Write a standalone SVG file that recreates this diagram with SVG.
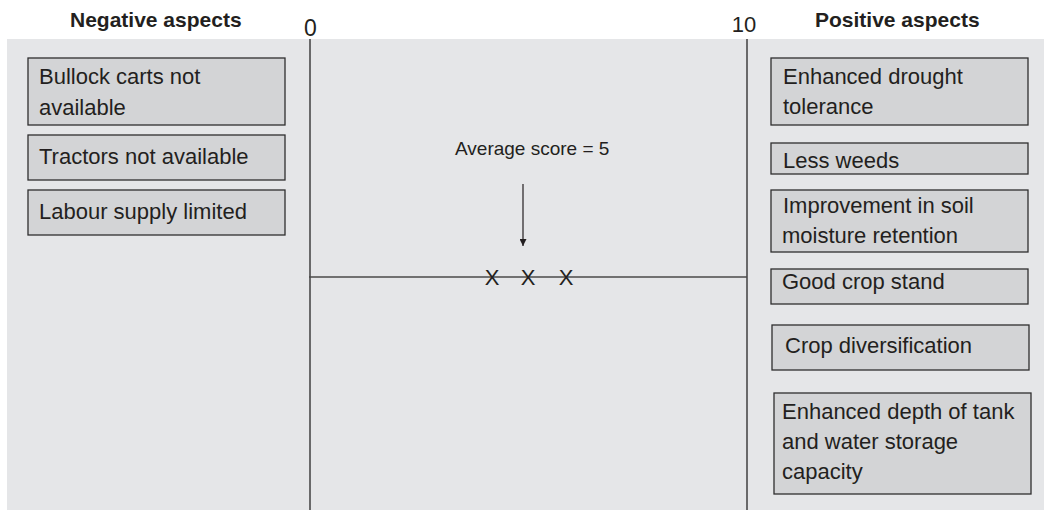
<svg xmlns="http://www.w3.org/2000/svg" width="1044" height="510" viewBox="0 0 1044 510">
<defs>
<style>
.t{font-family:"Liberation Sans",Arial,sans-serif;font-size:22px;fill:#231f20}
.h{font-family:"Liberation Sans",Arial,sans-serif;font-size:21px;font-weight:bold;fill:#231f20}
.box{fill:#d3d4d6;stroke:#2f2f2f;stroke-width:1.3}
.ln{stroke:#4a4a4a;stroke-width:1.6;fill:none}
</style>
<marker id="ah" viewBox="0 0 10 10" refX="10" refY="5" markerWidth="7" markerHeight="7" markerUnits="userSpaceOnUse" orient="auto">
<path d="M0,0 L10,5 L0,10 z" fill="#231f20"/>
</marker>
</defs>
<rect x="0" y="0" width="1044" height="510" fill="#ffffff"/>
<rect x="7" y="39" width="1037" height="471" fill="#e5e6e8"/>
<text class="h" x="70" y="27">Negative aspects</text>
<text class="h" x="815" y="27">Positive aspects</text>
<text class="t" x="310.5" y="36" text-anchor="middle" style="font-size:23px">0</text>
<text class="t" x="744" y="32" text-anchor="middle">10</text>
<g id="connectors">
<line class="ln" x1="310" y1="39" x2="310" y2="510"/>
<line class="ln" x1="747" y1="39" x2="747" y2="510"/>
<line class="ln" x1="309" y1="277" x2="747" y2="277"/>
<line x1="523" y1="184" x2="523" y2="246" stroke="#231f20" stroke-width="1.2" marker-end="url(#ah)"/>
</g>
<g id="average">
<text class="t" x="455" y="155" style="font-size:19px">Average score = 5</text>
<text class="t" x="492" y="285" text-anchor="middle">X</text>
<text class="t" x="528" y="285" text-anchor="middle">X</text>
<text class="t" x="566" y="285" text-anchor="middle">X</text>
</g>
<g id="neg1"><rect class="box" x="28" y="58" width="257" height="67"/><text class="t" x="39" y="84">Bullock carts not</text><text class="t" x="39" y="115">available</text></g>
<g id="neg2"><rect class="box" x="28" y="135" width="257" height="45"/><text class="t" x="39" y="164">Tractors not available</text></g>
<g id="neg3"><rect class="box" x="28" y="190" width="257" height="45"/><text class="t" x="39" y="219">Labour supply limited</text></g>
<g id="pos1"><rect class="box" x="771" y="58" width="257" height="67"/><text class="t" x="783" y="84">Enhanced drought</text><text class="t" x="783" y="114">tolerance</text></g>
<g id="pos2"><rect class="box" x="771" y="143" width="257" height="31"/><text class="t" x="783" y="168">Less weeds</text></g>
<g id="pos3"><rect class="box" x="771" y="190" width="257" height="62"/><text class="t" x="783" y="213">Improvement in soil</text><text class="t" x="782" y="243">moisture retention</text></g>
<g id="pos4"><rect class="box" x="771" y="269" width="257" height="35"/><text class="t" x="782" y="289">Good crop stand</text></g>
<g id="pos5"><rect class="box" x="772" y="325" width="257" height="45"/><text class="t" x="785" y="353">Crop diversification</text></g>
<g id="pos6"><rect class="box" x="774" y="393" width="257" height="101"/><text class="t" x="782" y="419">Enhanced depth of tank</text><text class="t" x="782" y="449">and water storage</text><text class="t" x="782" y="479">capacity</text></g>
</svg>
